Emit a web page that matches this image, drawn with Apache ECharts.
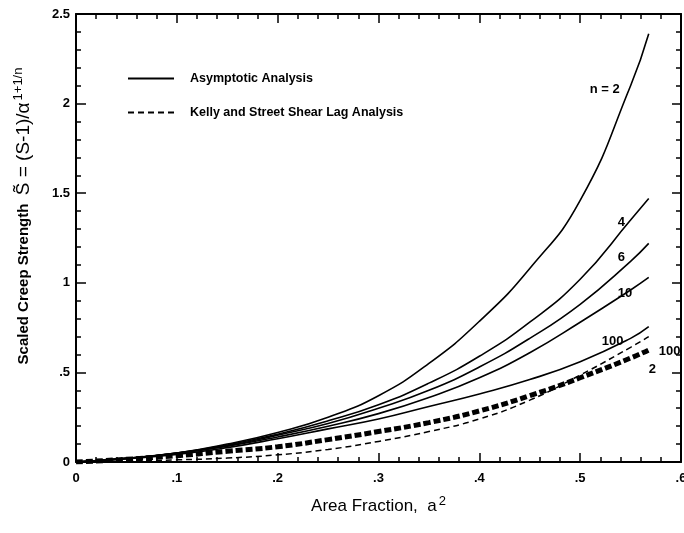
<!DOCTYPE html>
<html>
<head>
<meta charset="utf-8">
<script src="https://cdn.jsdelivr.net/npm/echarts@6/dist/echarts.min.js"></script>
<style>
  html, body { margin: 0; padding: 0; background: #fff; }
  #chart { width: 684px; height: 533px; }
</style>
</head>
<body>
<div id="chart"></div>
<script>
// area fraction a^2 sample points
const areaFraction = [0, 0.05, 0.1, 0.15, 0.2, 0.25, 0.3, 0.35, 0.4, 0.45, 0.5, 0.55, 0.568];

// asymptotic analysis, one curve per n
const asym2   = [0, 0.02, 0.05, 0.10, 0.165, 0.25, 0.37, 0.55, 0.785, 1.08, 1.46, 2.10, 2.39];
const asym4   = [0, 0.02, 0.05, 0.095, 0.155, 0.23, 0.32, 0.44, 0.59, 0.78, 1.02, 1.35, 1.47];
const asym6   = [0, 0.02, 0.05, 0.09, 0.15, 0.215, 0.30, 0.40, 0.53, 0.69, 0.88, 1.12, 1.22];
const asym10  = [0, 0.02, 0.048, 0.088, 0.14, 0.20, 0.27, 0.36, 0.47, 0.61, 0.78, 0.96, 1.03];
const asym100 = [0, 0.018, 0.042, 0.08, 0.13, 0.185, 0.24, 0.31, 0.38, 0.46, 0.56, 0.69, 0.755];

// Kelly and Street shear lag analysis
const ks100 = [0, 0.005, 0.012, 0.022, 0.04, 0.07, 0.115, 0.17, 0.24, 0.345, 0.485, 0.64, 0.70];
const ks2   = [0, 0.015, 0.035, 0.06, 0.085, 0.125, 0.17, 0.22, 0.285, 0.37, 0.47, 0.58, 0.625];

const ASYM = 'Asymptotic Analysis';
const KS = 'Kelly and Street Shear Lag Analysis';

function pts(arr) {
  return areaFraction.map((x, i) => [x, arr[i]]);
}

const labelFont = {
  fontFamily: 'Liberation Sans',
  fontSize: 13,
  fontWeight: 'bold',
  color: '#000'
};

function curve(name, arr, text, offset, lineStyle) {
  return {
    name: name,
    type: 'line',
    smooth: true,
    symbol: 'none',
    data: pts(arr),
    lineStyle: Object.assign({ color: '#000', width: 1.6, type: 'solid' }, lineStyle),
    itemStyle: { color: '#000' },
    endLabel: Object.assign({
      show: true,
      formatter: text,
      offset: offset
    }, labelFont)
  };
}

function tickLabel(v) {
  if (v === 0) return '0';
  return String(+v.toFixed(1)).replace(/^0\./, '.');
}

const axisLine = { show: true, onZero: false, lineStyle: { color: '#000', width: 2 } };

function mirrorAxis(extra) {
  return Object.assign({
    type: 'value',
    axisLine: axisLine,
    axisTick: { inside: true, length: 9, lineStyle: { color: '#000', width: 1.5 } },
    minorTick: { show: true, splitNumber: 5, length: 5, lineStyle: { color: '#000', width: 1.5 } },
    splitLine: { show: false },
    axisLabel: { show: false }
  }, extra);
}

const chartOpts = {
  animation: false,
  backgroundColor: '#fff',
  grid: { left: 76, right: 3, top: 14, bottom: 71, outerBoundsMode: 'none' },
  legend: {
    orient: 'vertical',
    left: 122,
    top: 67,
    itemWidth: 46,
    itemHeight: 14,
    itemGap: 21,
    itemStyle: { opacity: 0 },
    data: [ASYM, KS],
    textStyle: Object.assign({ padding: [0, 0, 0, 11] }, labelFont, { fontSize: 12.5 })
  },
  xAxis: [
    {
      type: 'value',
      min: 0,
      max: 0.6,
      interval: 0.1,
      position: 'bottom',
      name: '{a|Area Fraction,  a}{sup|2}',
      nameLocation: 'middle',
      nameGap: 33,
      nameTextStyle: {
        rich: {
          a: { fontFamily: 'Liberation Sans', fontSize: 17, color: '#000' },
          sup: { fontFamily: 'Liberation Sans', fontSize: 13, color: '#000', padding: [0, 0, 9, 2] }
        }
      },
      axisLine: axisLine,
      axisTick: { inside: true, length: 9, lineStyle: { color: '#000', width: 1.5 } },
      minorTick: { show: true, splitNumber: 5, length: 5, lineStyle: { color: '#000', width: 1.5 } },
      splitLine: { show: false },
      axisLabel: Object.assign({ margin: 10, formatter: tickLabel }, labelFont)
    },
    mirrorAxis({ min: 0, max: 0.6, interval: 0.1, position: 'top' })
  ],
  yAxis: [
    {
      type: 'value',
      min: 0,
      max: 2.5,
      interval: 0.5,
      position: 'left',
      name: '{a|Scaled Creep Strength  }{b|S\u0303 = (S-1)/\u03b1}{sup|1+1/n}',
      nameLocation: 'middle',
      nameGap: 40,
      nameTextStyle: {
        padding: [0, 0, 0, 44],
        rich: {
          a: { fontFamily: 'Liberation Sans', fontSize: 15, fontWeight: 'bold', color: '#000' },
          b: { fontFamily: 'Liberation Sans', fontSize: 19, color: '#000' },
          sup: { fontFamily: 'Liberation Sans', fontSize: 13, color: '#000', padding: [0, 0, 11, 2] }
        }
      },
      axisLine: axisLine,
      axisTick: { inside: true, length: 10, lineStyle: { color: '#000', width: 1.5 } },
      minorTick: { show: true, splitNumber: 5, length: 5, lineStyle: { color: '#000', width: 1.5 } },
      splitLine: { show: false },
      axisLabel: Object.assign({ margin: 6, formatter: tickLabel }, labelFont)
    },
    mirrorAxis({ min: 0, max: 2.5, interval: 0.5, position: 'right' })
  ],
  series: [
    curve(ASYM, asym2, 'n = 2', [-67, 56]),
    curve(ASYM, asym4, '4', [-39, 24]),
    curve(ASYM, asym6, '6', [-39, 14]),
    curve(ASYM, asym10, '10', [-39, 16]),
    curve(ASYM, asym100, '100', [-55, 15]),
    curve(KS, ks100, '100', [2, 15], { width: 1.5, type: [6, 4] }),
    curve(KS, ks2, '2', [-8, 19], { width: 5, type: [7, 3] })
  ]
};

const chart = echarts.init(document.getElementById('chart'));
chart.setOption(chartOpts);
</script>
</body>
</html>
